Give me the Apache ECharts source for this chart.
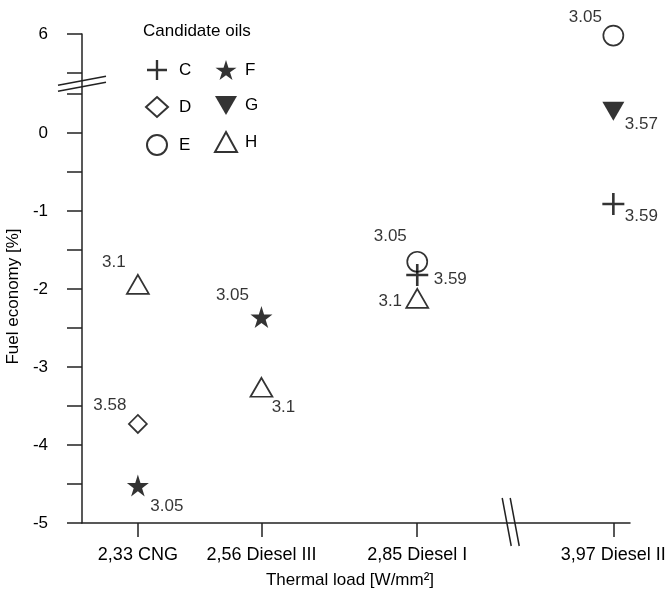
<!DOCTYPE html>
<html lang="en" style="height: 100%">
<head>
  <meta charset="utf-8">
</head>
<body style="height: 100%; margin: 0; background: #fff">
  <div id="container" style="width: 668px; height: 597px"></div>

  <script type="text/javascript" src="https://cdn.jsdelivr.net/npm/echarts@6.0.0/dist/echarts.min.js"></script>
  <script type="text/javascript">
    // thermal load of each engine [W/mm2] and the names on the x axis
    const loadValues = [2.33, 2.56, 2.85, 3.97];
    const loadNames = ['2,33 CNG', '2,56 Diesel III', '2,85 Diesel I', '3,97 Diesel II'];

    // fuel economy [%] per candidate oil at each load (null = not tested)
    const oilC = [null, null, -1.82, -0.91];
    const oilD = [-3.73, null, null, null];
    const oilE = [null, null, -1.65, 5.98];
    const oilF = [-4.52, -2.36, null, null];
    const oilG = [null, null, null, 0.28];
    const oilH = [-1.94, -3.26, -2.12, null];

    // number printed next to each point
    const textC = [null, null, '3.59', '3.59'];
    const textD = ['3.58', null, null, null];
    const textE = [null, null, '3.05', '3.05'];
    const textF = ['3.05', '3.05', null, null];
    const textG = [null, null, null, '3.57'];
    const textH = ['3.1', '3.1', '3.1', null];

    // y axis ticks / labels (real values)
    const yTicks = [-5, -4.5, -4, -3.5, -3, -2.5, -2, -1.5, -1, -0.5, 0, 0.5, 5.5, 6];
    const yLabels = [-5, -4, -3, -2, -1, 0, 6];

    // both axes are broken: values past the break are pulled back
    const X_SHIFT = 0.755;   // 2.85 .. 3.97 gap
    const Y_SHIFT = 4.73;    // 0.5 .. 5.5 gap
    const xPos = v => (v > 3 ? v - X_SHIFT : v);
    const yPos = v => (v > 3 ? v - Y_SHIFT : v);

    // where each label sits relative to its point (px)
    const labelOffsets = {
      C: [null, null, [33, 4], [28, 12]],
      D: [[-28, -19], null, null, null],
      E: [null, null, [-27, -25], [-28, -18]],
      F: [[29, 21], [-29, -22], null, null],
      G: [null, null, null, [28, 13]],
      H: [[-24, -22], [22, 20], [-27, 3], null]
    };

    const ink = '#000';
    const hollow = { color: '#fff', borderColor: ink, borderWidth: 1.7 };
    const solid = { color: ink, borderWidth: 0 };
    const starPath = 'path://M50,0L61.23,34.55L97.55,34.55L68.17,55.9L79.39,90.45L50,69.1L20.61,90.45L31.83,55.9L2.45,34.55L38.77,34.55Z';
    const plusPath = 'path://M0,9.7L22,9.7L22,12.3L0,12.3Z M9.7,0L12.3,0L12.3,22L9.7,22Z';
    const downTriPath = 'path://M0,0L22,0L11,19Z';

    const looks = {
      C: { symbol: plusPath, size: 22, itemStyle: solid },
      D: { symbol: 'diamond', size: 18, itemStyle: hollow },
      E: { symbol: 'circle', size: 20, itemStyle: hollow },
      F: { symbol: starPath, size: 22, itemStyle: solid },
      G: { symbol: downTriPath, size: [22, 19], itemStyle: solid },
      H: { symbol: 'triangle', size: [22, 19], itemStyle: hollow }
    };

    const oilData = { C: oilC, D: oilD, E: oilE, F: oilF, G: oilG, H: oilH };
    const oilText = { C: textC, D: textD, E: textE, F: textF, G: textG, H: textH };
    const drawOrder = ['D', 'E', 'H', 'F', 'G', 'C'];

    function makeSeries(name) {
      const look = looks[name];
      const data = [];
      oilData[name].forEach(function (v, i) {
        if (v == null) return;
        data.push({
          value: [xPos(loadValues[i]), yPos(v)],
          label: { formatter: oilText[name][i], offset: labelOffsets[name][i] }
        });
      });
      return {
        name: name,
        type: 'scatter',
        symbol: look.symbol,
        symbolSize: look.size,
        itemStyle: look.itemStyle,
        label: { show: true, position: 'inside', fontSize: 17, color: ink },
        emphasis: { disabled: true },
        data: data
      };
    }

    const font = "'Liberation Sans', Arial, Helvetica, sans-serif";
    const axisColor = '#222';

    var dom = document.getElementById('container');
    var myChart = echarts.init(dom, null, { renderer: 'canvas' });

    var option = {
      animation: false,
      textStyle: { fontFamily: font, color: ink },
      title: {
        text: 'Candidate oils',
        left: 138,
        top: 18,
        textStyle: { fontSize: 17, fontWeight: 'normal', color: ink, fontFamily: font }
      },
      legend: [
        {
          data: ['C', 'D', 'E'],
          orient: 'vertical',
          left: 140,
          top: 55,
          itemWidth: 22,
          itemHeight: 20,
          itemGap: 16,
          textStyle: { fontSize: 17, color: ink, padding: [0, 0, 0, 6] },
          selectedMode: false
        },
        {
          data: ['F', 'G', 'H'],
          orient: 'vertical',
          left: 209,
          top: 55,
          itemWidth: 22,
          itemHeight: 20,
          itemGap: 16,
          textStyle: { fontSize: 17, color: ink, padding: [0, 0, 0, 3] },
          selectedMode: false
        }
      ],
      grid: { left: 82, right: 38, top: 34, bottom: 74, outerBoundsMode: 'none', containLabel: false },
      xAxis: {
        type: 'value',
        min: 2.226,
        max: 3.246,
        name: 'Thermal load [W/mm²]',
        nameLocation: 'middle',
        nameGap: 49,
        nameTextStyle: { fontSize: 17, color: ink, padding: [0, 12, 0, 0] },
        axisLine: { show: true, onZero: false, lineStyle: { color: axisColor, width: 1.5 } },
        axisTick: {
          show: true,
          length: 14,
          customValues: loadValues.map(xPos),
          lineStyle: { color: axisColor, width: 1.5 }
        },
        axisLabel: {
          fontSize: 18,
          color: ink,
          margin: 23,
          hideOverlap: false,
          customValues: loadValues.map(xPos),
          formatter: function (v) {
            for (let i = 0; i < loadValues.length; i++) {
              if (Math.abs(xPos(loadValues[i]) - v) < 1e-6) return loadNames[i];
            }
            return '';
          }
        },
        splitLine: { show: false }
      },
      yAxis: {
        type: 'value',
        min: -5,
        max: yPos(6),
        name: 'Fuel economy [%]',
        nameLocation: 'middle',
        nameGap: 54,
        nameTextStyle: { fontSize: 17, color: ink, padding: [0, 36, 0, 0] },
        axisLine: { show: true, onZero: false, lineStyle: { color: axisColor, width: 1.5 } },
        axisTick: {
          show: true,
          length: 15,
          customValues: yTicks.map(yPos),
          lineStyle: { color: axisColor, width: 1.5 }
        },
        axisLabel: {
          fontSize: 17,
          color: ink,
          margin: 34,
          customValues: yLabels.map(yPos),
          formatter: function (v) {
            const real = v > 0.6 ? v + Y_SHIFT : v;
            return String(Math.round(real));
          }
        },
        splitLine: { show: false }
      },
      series: drawOrder.map(makeSeries)
    };

    myChart.setOption(option);

    // double-slash break marks on both axes
    const xb = myChart.convertToPixel({ gridIndex: 0 }, [3.023, -5]);
    const yb = myChart.convertToPixel({ gridIndex: 0 }, [2.226, 0.625]);
    const breakLine = { stroke: axisColor, lineWidth: 1.5 };
    myChart.setOption({
      graphic: [
        {
          type: 'group',
          x: xb[0],
          y: xb[1],
          z: 100,
          children: [
            { type: 'polygon', shape: { points: [[-8, -25], [0, -25], [9, 23], [1, 23]] }, style: { fill: '#fff' } },
            { type: 'line', shape: { x1: -8, y1: -25, x2: 1, y2: 23 }, style: breakLine },
            { type: 'line', shape: { x1: 0, y1: -25, x2: 9, y2: 23 }, style: breakLine }
          ]
        },
        {
          type: 'group',
          x: yb[0],
          y: yb[1],
          z: 100,
          children: [
            { type: 'polygon', shape: { points: [[-24, 1], [24, -8], [24, -2], [-24, 7]] }, style: { fill: '#fff' } },
            { type: 'line', shape: { x1: -24, y1: 1, x2: 24, y2: -8 }, style: breakLine },
            { type: 'line', shape: { x1: -24, y1: 7, x2: 24, y2: -2 }, style: breakLine }
          ]
        }
      ]
    });

    window.addEventListener('resize', myChart.resize);
  </script>
</body>
</html>
